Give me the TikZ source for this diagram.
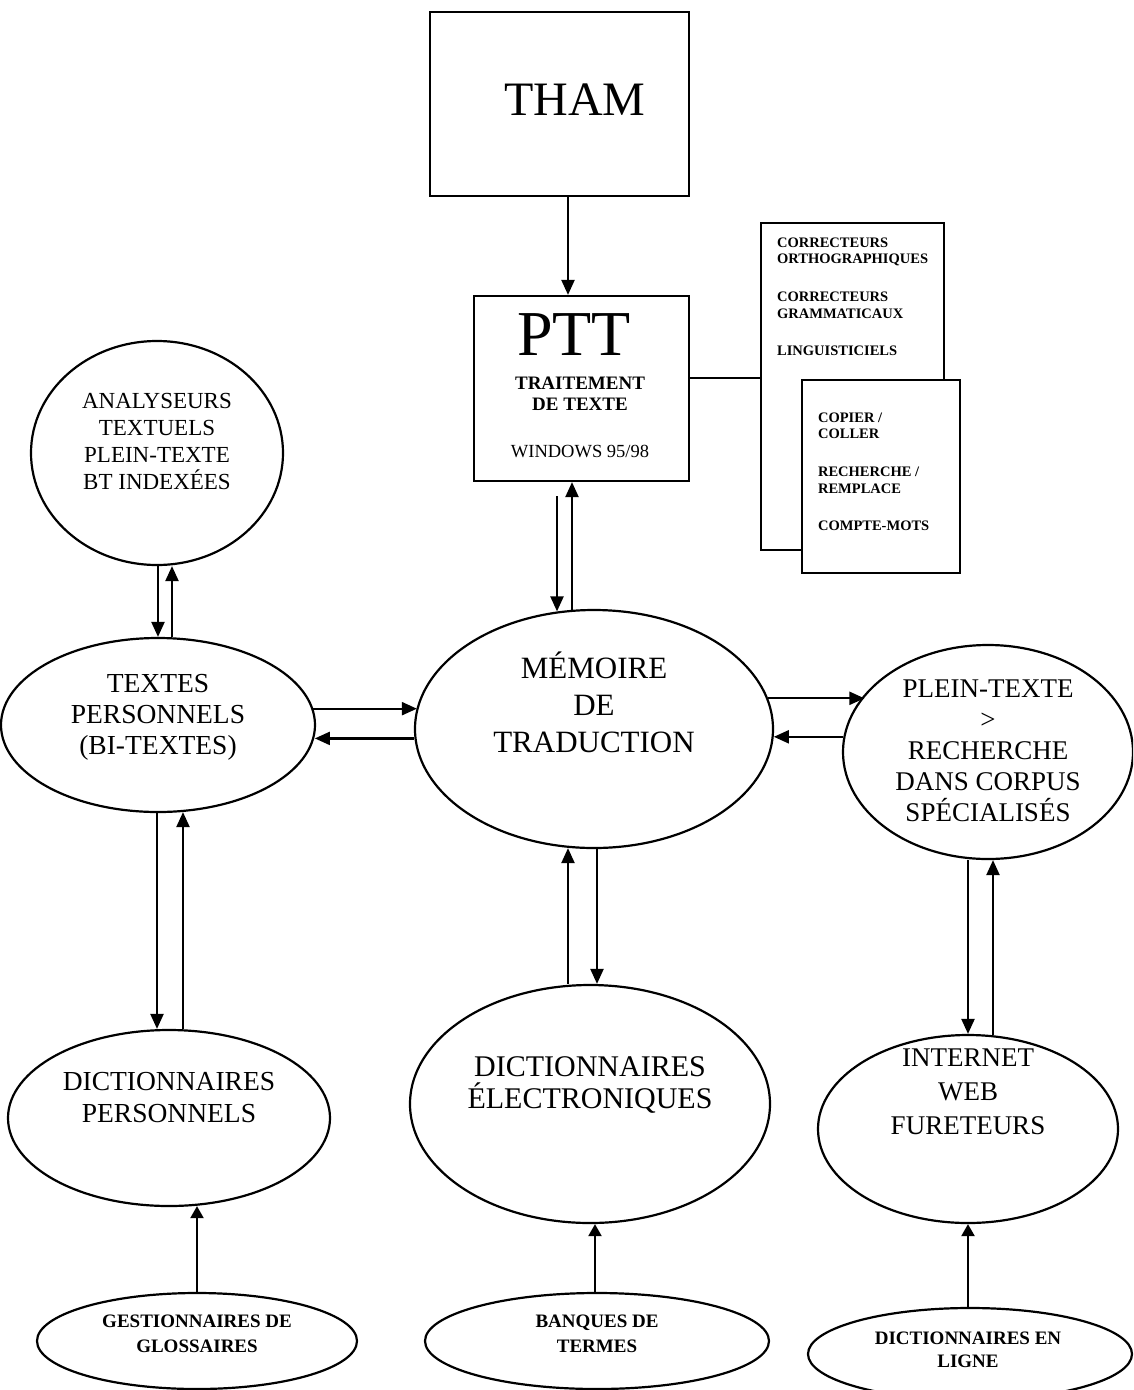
\documentclass[tikz,border=0pt]{standalone}
\usepackage{fontspec}
\setmainfont{Liberation Serif}
\usetikzlibrary{shapes.geometric,arrows.meta,calc}

\begin{document}
\begin{tikzpicture}[x=1pt,y=-1pt,
  line width=2.2pt,
  oval/.style={draw, ellipse, inner sep=0pt, line width=2.2pt},
  box/.style={draw, rectangle, inner sep=0pt, line width=2.2pt},
  lbl/.style={align=center, inner sep=0pt},
  tool/.style={anchor=base west, inner sep=0pt, font=\bfseries\fontsize{14.5}{16}\selectfont},
  arr/.style={-{Triangle[length=15pt,width=13pt]}, line width=2.2pt},
  sarr/.style={-{Triangle[length=12pt,width=13pt]}, line width=2.2pt},
]
\useasboundingbox (0,0) rectangle (1133,1390);
\clip (0,0) rectangle (1133,1390);

% --- top boxes ---
\node[box, minimum width=259pt, minimum height=184pt] (tham) at (559.5,104) {};
\node[inner sep=0pt, font=\fontsize{48}{50}\selectfont] (thamlbl) at (575,100) {THAM};

\node[box, minimum width=215pt, minimum height=185pt] (ptt) at (581.5,388.5) {};
\node[anchor=base, inner sep=0pt, font=\fontsize{64}{64}\selectfont] (pttlbl) at (574,355) {PTT};
\node[anchor=base, inner sep=0pt, font=\bfseries\fontsize{19}{21}\selectfont] (tt1) at (580,389) {TRAITEMENT};
\node[anchor=base, inner sep=0pt, font=\bfseries\fontsize{19}{21}\selectfont] (tt2) at (580,410) {DE TEXTE};
\node[anchor=base, inner sep=0pt, font=\fontsize{18.5}{20}\selectfont] (win) at (580,457) {WINDOWS 95/98};

% --- language tools and editing functions ---
\node[box, minimum width=183pt, minimum height=327pt] (outils) at (852.5,386.5) {};
\node[box, fill=white, minimum width=158pt, minimum height=193pt] (edit) at (881,476.5) {};

\node[tool] (c1) at (776,247) {CORRECTEURS};
\node[tool] (c2) at (776,263) {ORTHOGRAPHIQUES};
\node[tool] (c3) at (776,301) {CORRECTEURS};
\node[tool] (c4) at (776,318) {GRAMMATICAUX};
\node[tool] (c5) at (776,355) {LINGUISTICIELS};

\node[tool] (e1) at (817,422) {COPIER /};
\node[tool] (e2) at (817,438) {COLLER};
\node[tool] (e3) at (817,476) {RECHERCHE /};
\node[tool] (e4) at (817,493) {REMPLACE};
\node[tool] (e5) at (817,530) {COMPTE-MOTS};

\draw ([yshift=10.5pt]ptt.east) -- ([yshift=8.5pt]outils.west);

% --- ellipses ---
\node[oval, minimum width=252pt, minimum height=224pt] (anl) at (157,453) {};
\node[lbl, font=\fontsize{23}{27}\selectfont] (anllbl) at (157,441)
  {ANALYSEURS\\TEXTUELS\\PLEIN-TEXTE\\BT INDEXÉES};

\node[oval, minimum width=314pt, minimum height=174pt] (tp) at (158,725) {};
\node[lbl, font=\fontsize{27.5}{31}\selectfont] (tplbl) at (158,717)
  {TEXTES\\PERSONNELS\\(BI-TEXTES)};

\node[oval, minimum width=358pt, minimum height=238pt] (mem) at (594,729) {};
\node[lbl, font=\fontsize{31}{37}\selectfont] (memlbl) at (594,702)
  {MÉMOIRE\\DE\\TRADUCTION};

\node[oval, minimum width=290pt, minimum height=214pt] (plein) at (988,752) {};
\node[lbl, font=\fontsize{27}{31}\selectfont] (pleinlbl) at (988,751)
  {PLEIN-TEXTE\\>\\RECHERCHE\\DANS CORPUS\\SPÉCIALISÉS};

\node[oval, minimum width=322pt, minimum height=176pt] (dp) at (169,1118) {};
\node[lbl, font=\fontsize{27.5}{32}\selectfont] (dplbl) at (169,1098)
  {DICTIONNAIRES\\PERSONNELS};

\node[oval, minimum width=360pt, minimum height=238pt] (de) at (590,1104) {};
\node[lbl, font=\fontsize{30}{32}\selectfont] (delbl) at (590,1085)
  {DICTIONNAIRES\\ÉLECTRONIQUES};

\node[oval, minimum width=300pt, minimum height=188pt] (web) at (968,1129) {};
\node[lbl, font=\fontsize{27}{34}\selectfont] (weblbl) at (968,1092)
  {INTERNET\\WEB\\FURETEURS};

\node[oval, minimum width=320pt, minimum height=96pt] (gest) at (197,1341) {};
\node[lbl, font=\bfseries\fontsize{19}{25}\selectfont] (gestlbl) at (197,1334)
  {GESTIONNAIRES DE\\GLOSSAIRES};

\node[oval, minimum width=344pt, minimum height=96pt] (banq) at (597,1341) {};
\node[lbl, font=\bfseries\fontsize{19}{25}\selectfont] (banqlbl) at (597,1334)
  {BANQUES DE\\TERMES};

\node[oval, minimum width=324pt, minimum height=92pt] (ligne) at (970,1354) {};
\node[lbl, font=\bfseries\fontsize{19}{23}\selectfont] (lignelbl) at (968,1350)
  {DICTIONNAIRES EN\\LIGNE};

% --- connectors ---
\draw[arr] ([xshift=-13.5pt]ptt.north |- tham.south) -- ([xshift=-13.5pt]ptt.north);
\draw[arr] ([xshift=-24.5pt,yshift=-14pt]ptt.south) -- ([xshift=-37pt,yshift=-2.5pt]mem.north);
\draw[arr] ([xshift=-22pt,yshift=-1pt]mem.north) -- ([xshift=-9.5pt]ptt.south);

\draw[arr] ([xshift=1pt]anl.south) -- (tp.north);
\draw[arr] ([xshift=14pt]tp.north) -- ([xshift=15pt]anl.south);

% horizontal exchanges with the translation memory
\draw[arr] (tp.6.3) -- (mem.173.2 |- tp.6.3);
\draw[arr] (mem.-177.4) -- (tp.-4.4 |- mem.-177.4);
\draw[arr] (mem.10.9) -- (plein.155.6 |- mem.10.9);
\draw[arr] (plein.174) -- (mem.-2.6 |- plein.174);

\draw[arr] ([xshift=-1pt]tp.south) -- ([xshift=-12pt]dp.north);
\draw[arr] ([xshift=14pt]dp.north) -- ([xshift=25pt,yshift=1pt]tp.south);

\draw[arr] ([xshift=-22pt]de.north) -- ([xshift=-26pt,yshift=1pt]mem.south);
\draw[arr] ([xshift=3pt]mem.south) -- ([xshift=7pt]de.north);

\draw[arr] ([xshift=-20pt]plein.south) -- (web.north);
\draw[arr] ([xshift=25pt,yshift=-1pt]web.north) -- ([xshift=5pt]plein.south);

\draw[sarr] (gest.north) -- ([xshift=28pt,yshift=1pt]dp.south);
\draw[sarr] ([xshift=-2pt]banq.north) -- ([xshift=5pt]de.south);
\draw[sarr] ([xshift=-2pt]ligne.north) -- (web.south);
\end{tikzpicture}
\end{document}
